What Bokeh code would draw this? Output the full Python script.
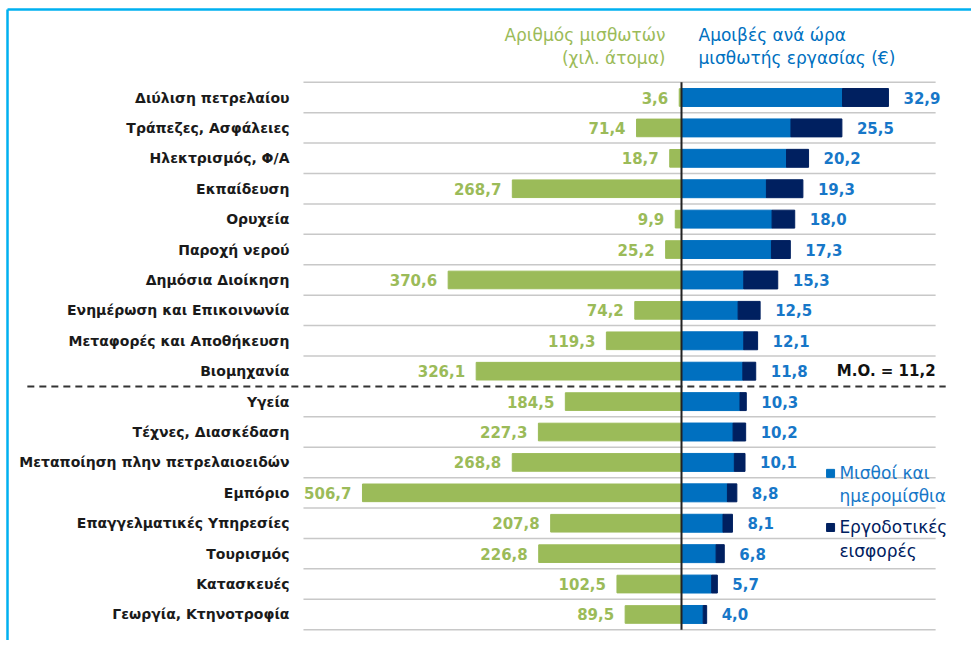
from bokeh.plotting import figure
from bokeh.models import Range1d, ColumnDataSource
from bokeh.core.properties import value
from bokeh.embed import file_html
from bokeh.resources import INLINE

# ---------------- data ----------------
categories = [
    "Διύλιση πετρελαίου", "Τράπεζες, Ασφάλειες", "Ηλεκτρισμός, Φ/Α", "Εκπαίδευση",
    "Ορυχεία", "Παροχή νερού", "Δημόσια Διοίκηση", "Ενημέρωση και Επικοινωνία",
    "Μεταφορές και Αποθήκευση", "Βιομηχανία", "Υγεία", "Τέχνες, Διασκέδαση",
    "Μεταποίηση πλην πετρελαιοειδών", "Εμπόριο", "Επαγγελματικές Υπηρεσίες",
    "Τουρισμός", "Κατασκευές", "Γεωργία, Κτηνοτροφία",
]
employees = [3.6, 71.4, 18.7, 268.7, 9.9, 25.2, 370.6, 74.2, 119.3, 326.1,
             184.5, 227.3, 268.8, 506.7, 207.8, 226.8, 102.5, 89.5]
wages = [25.6, 17.4, 16.7, 13.5, 14.4, 14.3, 9.9, 9.0, 9.9, 9.75,
         9.3, 8.2, 8.4, 7.3, 6.6, 5.5, 4.8, 3.45]
contributions = [7.3, 8.1, 3.5, 5.8, 3.6, 3.0, 5.4, 3.5, 2.2, 2.05,
                 1.0, 2.0, 1.7, 1.5, 1.5, 1.3, 0.9, 0.55]
totals = [32.9, 25.5, 20.2, 19.3, 18.0, 17.3, 15.3, 12.5, 12.1, 11.8,
          10.3, 10.2, 10.1, 8.8, 8.1, 6.8, 5.7, 4.0]
above_average_count = 10
average_label = "M.O. = 11,2"
header_left = ["Αριθμός μισθωτών", "(χιλ. άτομα)"]
header_right = ["Αμοιβές ανά ώρα", "μισθωτής εργασίας (€)"]
legend_wages = ["Μισθοί και", "ημερομίσθια"]
legend_contrib = ["Εργοδοτικές", "εισφορές"]

# ---------------- style ----------------
GREEN = "#9BBB59"
BLUE = "#0070C0"
LBLUE = "#1777C8"
NAVY = "#002060"
FRAME = "#00B0F0"
GRID = "#C8C8C8"
FONT = value("DejaVu Sans")

W, H = 971, 640
zero_px = 681
px_eur = 6.29
px_k = 0.6296
row0_px = 97
row_px = 30.41

n = len(categories)
fmt = lambda v: f"{v:.1f}".replace(".", ",")

src = ColumnDataSource(dict(
    cat=categories,
    y=list(range(n)),
    emp=employees,
    w=wages,
    wc=[a + b for a, b in zip(wages, contributions)],
    emp_lbl=[fmt(v) for v in employees],
    tot_lbl=[fmt(v) for v in totals],
))

p = figure(width=W, height=H, output_backend="svg", toolbar_location=None,
           min_border=0, x_axis_location=None, y_axis_location=None,
           x_range=Range1d(-zero_px / px_eur, (W - zero_px) / px_eur),
           y_range=Range1d((H - row0_px) / row_px, -row0_px / row_px))
p.extra_x_ranges = {"emp": Range1d(zero_px / px_k, -(W - zero_px) / px_k)}
p.grid.visible = False
p.outline_line_color = None
p.background_fill_color = "white"

g0, g1 = -60.1, 40.4

# gridlines between rows
gy = [i - 0.5 for i in range(n + 1) if i != above_average_count]
p.segment(x0=g0, x1=g1, y0=gy, y1=gy, line_color=GRID, line_width=1.5)
# dashed separator
p.segment(x0=-104, x1=42, y0=above_average_count - 0.5, y1=above_average_count - 0.5,
          line_color="#333333", line_width=2, line_dash="7 5")

# bars
p.hbar(y="y", left=0, right="emp", height=0.58, color=GREEN, x_range_name="emp", source=src)
p.hbar(y="y", left=0, right="w", height=0.59, color=BLUE, source=src)
p.hbar(y="y", left="w", right="wc", height=0.59, color=NAVY, source=src)

# zero line
p.segment(x0=0, x1=0, y0=-0.5, y1=n - 0.5, line_color="#222222", line_width=2)

# value labels
p.text(x="emp", y="y", text="emp_lbl", x_range_name="emp", x_offset=-11,
       text_align="right", text_baseline="middle", text_font=FONT,
       text_font_style="bold", text_font_size="15px", text_color=GREEN, source=src)
p.text(x="wc", y="y", text="tot_lbl", x_offset=15,
       text_align="left", text_baseline="middle", text_font=FONT,
       text_font_style="bold", text_font_size="15px", text_color=LBLUE, source=src)

# category labels
p.text(x=g0, y="y", text="cat", x_offset=-14, text_align="right", text_baseline="middle",
       text_font=FONT, text_font_style="bold", text_font_size="14px",
       text_color="#1a1a1a", source=src)

# average label
p.text(x=[g1], y=[above_average_count - 1], text=[average_label], text_align="right",
       text_baseline="middle", text_font=FONT, text_font_style="bold",
       text_font_size="15px", text_color="#111111")

# headers
hy = [-2.04, -1.315]
p.text(x=[0, 0], y=hy, text=header_left, x_offset=-16, text_align="right",
       text_baseline="middle", text_font=FONT, text_font_size="17px", text_color=GREEN)
p.text(x=[0, 0], y=hy, text=header_right, x_offset=17, text_align="left",
       text_baseline="middle", text_font=FONT, text_font_size="17px", text_color=BLUE)

# legend
lx_sq, lx_tx = 23.7, 25.1
p.scatter(x=[lx_sq], y=[12.36], marker="square", size=8, color=BLUE)
p.text(x=[lx_tx, lx_tx], y=[12.36, 13.09], text=legend_wages, text_align="left",
       text_baseline="middle", text_font=FONT, text_font_size="17px", text_color=LBLUE)
p.scatter(x=[lx_sq], y=[14.14], marker="square", size=8, color=NAVY)
p.text(x=[lx_tx, lx_tx], y=[14.14, 14.9], text=legend_contrib, text_align="left",
       text_baseline="middle", text_font=FONT, text_font_size="17px", text_color=NAVY)

# frame border (top and left edges of the original box)
bx = (7 - zero_px) / px_eur
by = (9 - row0_px) / row_px
xe = p.x_range.end
ys = p.y_range.start
p.segment(x0=[bx, bx], y0=[by, ys], x1=[xe, bx], y1=[by, by], line_color=FRAME, line_width=2.5)

open("out.html", "w").write(file_html(p, INLINE))
